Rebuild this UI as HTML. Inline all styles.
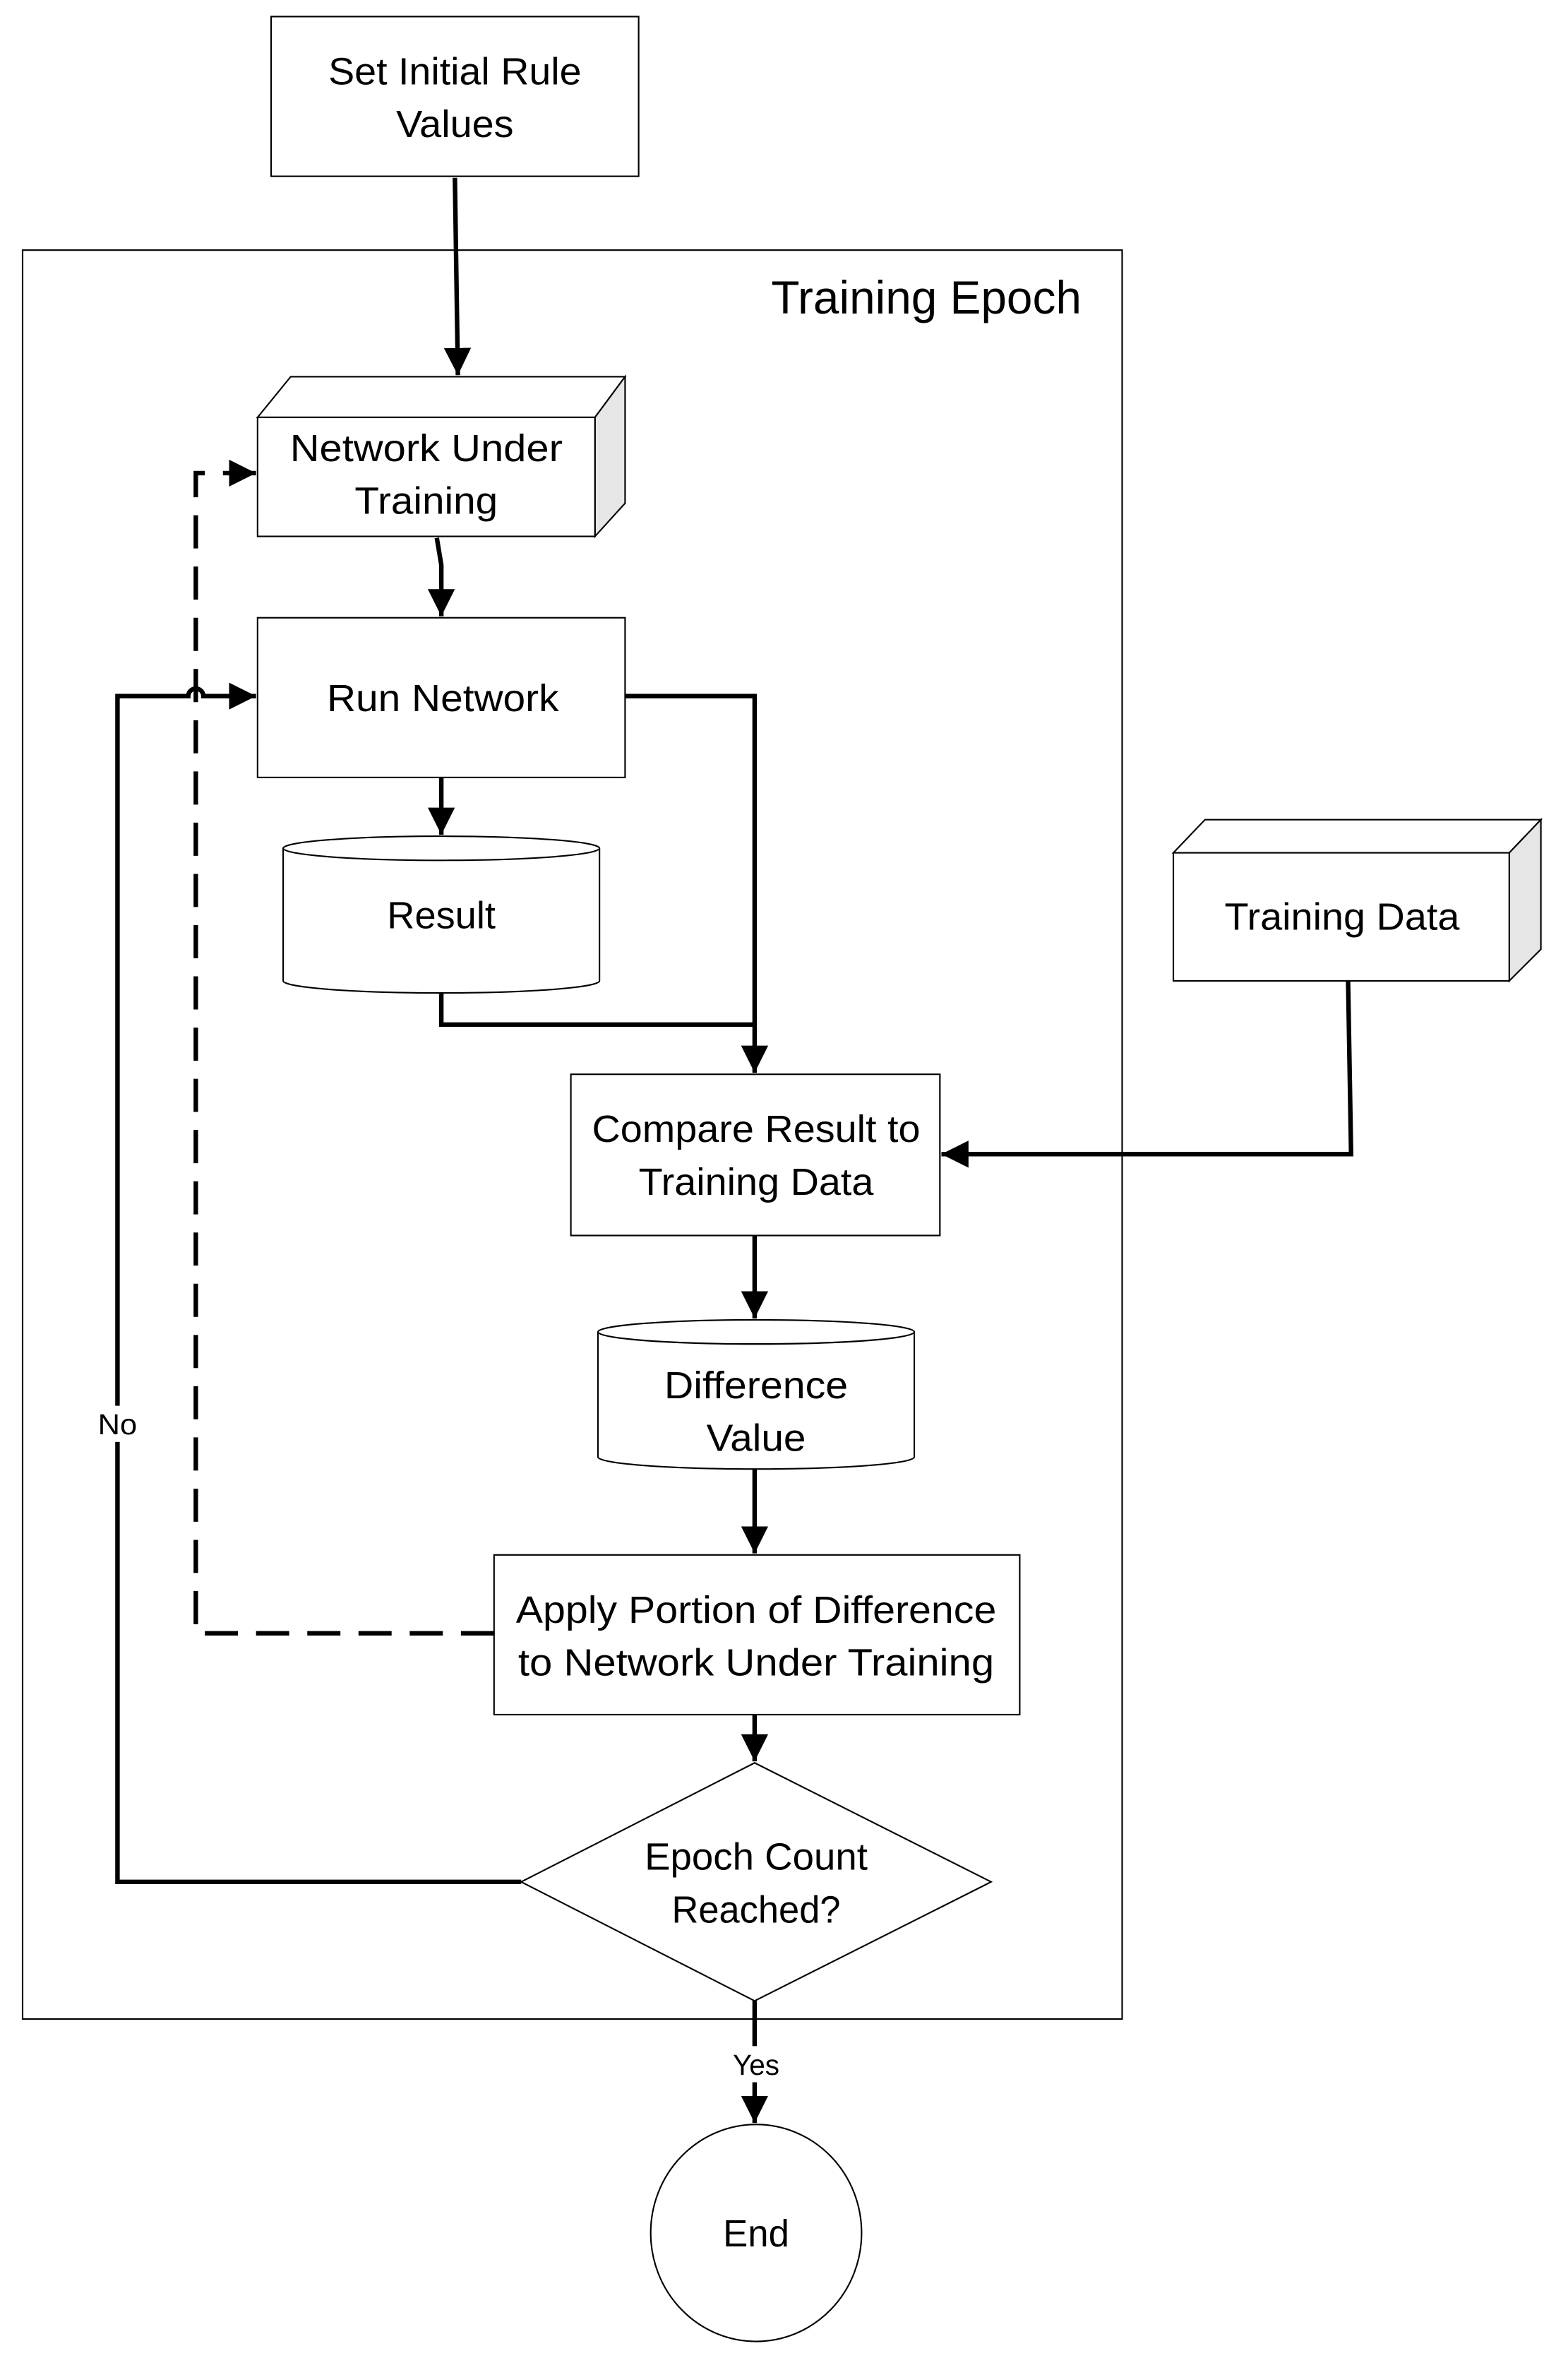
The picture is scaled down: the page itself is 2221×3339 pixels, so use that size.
<!DOCTYPE html>
<html><head><meta charset="utf-8"><style>html,body{margin:0;padding:0;background:#fff}svg{display:block}</style></head>
<body>
<svg width="2221" height="3339" viewBox="0 0 1041 1565" preserveAspectRatio="none" xmlns="http://www.w3.org/2000/svg" font-family="Liberation Sans, sans-serif" fill="#000">
<defs>
<marker id="a" markerWidth="6" markerHeight="6" refX="6" refY="3" orient="auto" markerUnits="strokeWidth"><path d="M0,0 L6,3 L0,6 Z" fill="#000"/></marker>
</defs>
<rect x="0" y="0" width="1041" height="1565" fill="#fff"/>
<rect x="15" y="166" width="730" height="1174" fill="none" stroke="#000" stroke-width="1"/>
<text x="718" y="208" font-size="31" text-anchor="end" textLength="206" lengthAdjust="spacingAndGlyphs">Training Epoch</text>

<rect x="180" y="11" width="244" height="106" fill="#fff" stroke="#000" stroke-width="1"/>
<text x="302" y="56" font-size="25" text-anchor="middle" textLength="168" lengthAdjust="spacingAndGlyphs">Set Initial Rule</text>
<text x="302" y="91" font-size="25" text-anchor="middle" textLength="78" lengthAdjust="spacingAndGlyphs">Values</text>

<g stroke="#000" stroke-width="3" fill="none">
<path d="M302,118 L304,249" marker-end="url(#a)"/>
<path d="M290,357 L293,375 L293,409" marker-end="url(#a)"/>
<path d="M293,516 L293,554" marker-end="url(#a)"/>
<path d="M415,462 L501,462 L501,712" marker-end="url(#a)"/>
<path d="M293,659 L293,680 L501,680"/>
<path d="M895,651 L897,766 L625,766" marker-end="url(#a)"/>
<path d="M501,820 L501,875" marker-end="url(#a)"/>
<path d="M501,975 L501,1031" marker-end="url(#a)"/>
<path d="M501,1138 L501,1169" marker-end="url(#a)"/>
<path d="M501,1328 L501,1409" marker-end="url(#a)"/>
<path d="M346,1249 L78,1249 L78,462 L125,462 A5,5 0 0 1 135,462 L170,462" marker-end="url(#a)"/>
<path d="M328,1084 L130,1084 L130,314 L170,314" stroke-dasharray="22,12" marker-end="url(#a)"/>
</g>

<path d="M171,277 L193,250 L415,250 L395,277 Z" fill="#fff" stroke="#000" stroke-width="1"/>
<path d="M395,277 L415,250 L415,334 L395,356 Z" fill="#e6e6e6" stroke="#000" stroke-width="1"/>
<rect x="171" y="277" width="224" height="79" fill="#fff" stroke="#000" stroke-width="1"/>
<text x="283" y="306" font-size="25" text-anchor="middle" textLength="181" lengthAdjust="spacingAndGlyphs">Network Under</text>
<text x="283" y="341" font-size="25" text-anchor="middle" textLength="95" lengthAdjust="spacingAndGlyphs">Training</text>

<rect x="171" y="410" width="244" height="106" fill="#fff" stroke="#000" stroke-width="1"/>
<text x="294" y="472" font-size="25" text-anchor="middle" textLength="154" lengthAdjust="spacingAndGlyphs">Run Network</text>

<path d="M188,563 L188,651 A105,8 0 0 0 398,651 L398,563" fill="#fff" stroke="#000" stroke-width="1"/>
<ellipse cx="293" cy="563" rx="105" ry="8" fill="#fff" stroke="#000" stroke-width="1"/>
<text x="293" y="616" font-size="25" text-anchor="middle" textLength="72" lengthAdjust="spacingAndGlyphs">Result</text>

<path d="M779,566 L800,544 L1023,544 L1002,566 Z" fill="#fff" stroke="#000" stroke-width="1"/>
<path d="M1002,566 L1023,544 L1023,630 L1002,651 Z" fill="#e6e6e6" stroke="#000" stroke-width="1"/>
<rect x="779" y="566" width="223" height="85" fill="#fff" stroke="#000" stroke-width="1"/>
<text x="891" y="617" font-size="25" text-anchor="middle" textLength="156" lengthAdjust="spacingAndGlyphs">Training Data</text>

<rect x="379" y="713" width="245" height="107" fill="#fff" stroke="#000" stroke-width="1"/>
<text x="502" y="758" font-size="25" text-anchor="middle" textLength="218" lengthAdjust="spacingAndGlyphs">Compare Result to</text>
<text x="502" y="793" font-size="25" text-anchor="middle" textLength="156" lengthAdjust="spacingAndGlyphs">Training Data</text>

<path d="M397,884 L397,967 A105,8 0 0 0 607,967 L607,884" fill="#fff" stroke="#000" stroke-width="1"/>
<ellipse cx="502" cy="884" rx="105" ry="8" fill="#fff" stroke="#000" stroke-width="1"/>
<text x="502" y="928" font-size="25" text-anchor="middle" textLength="122" lengthAdjust="spacingAndGlyphs">Difference</text>
<text x="502" y="963" font-size="25" text-anchor="middle" textLength="66" lengthAdjust="spacingAndGlyphs">Value</text>

<rect x="328" y="1032" width="349" height="106" fill="#fff" stroke="#000" stroke-width="1"/>
<text x="502" y="1077" font-size="25" text-anchor="middle" textLength="319" lengthAdjust="spacingAndGlyphs">Apply Portion of Difference</text>
<text x="502" y="1112" font-size="25" text-anchor="middle" textLength="316" lengthAdjust="spacingAndGlyphs">to Network Under Training</text>

<path d="M501,1170 L658,1249 L501,1328 L346,1249 Z" fill="#fff" stroke="#000" stroke-width="1"/>
<text x="502" y="1241" font-size="25" text-anchor="middle" textLength="148" lengthAdjust="spacingAndGlyphs">Epoch Count</text>
<text x="502" y="1276" font-size="25" text-anchor="middle" textLength="112" lengthAdjust="spacingAndGlyphs">Reached?</text>

<rect x="485" y="1358" width="34" height="24" fill="#fff"/>
<text x="502" y="1377" font-size="19" text-anchor="middle" textLength="31" lengthAdjust="spacingAndGlyphs">Yes</text>

<rect x="64" y="933" width="30" height="24" fill="#fff"/>
<text x="78" y="952" font-size="19" text-anchor="middle" textLength="26" lengthAdjust="spacingAndGlyphs">No</text>

<ellipse cx="502" cy="1482" rx="70" ry="72" fill="#fff" stroke="#000" stroke-width="1"/>
<text x="502" y="1491" font-size="25" text-anchor="middle" textLength="44" lengthAdjust="spacingAndGlyphs">End</text>
</svg>
</body></html>
